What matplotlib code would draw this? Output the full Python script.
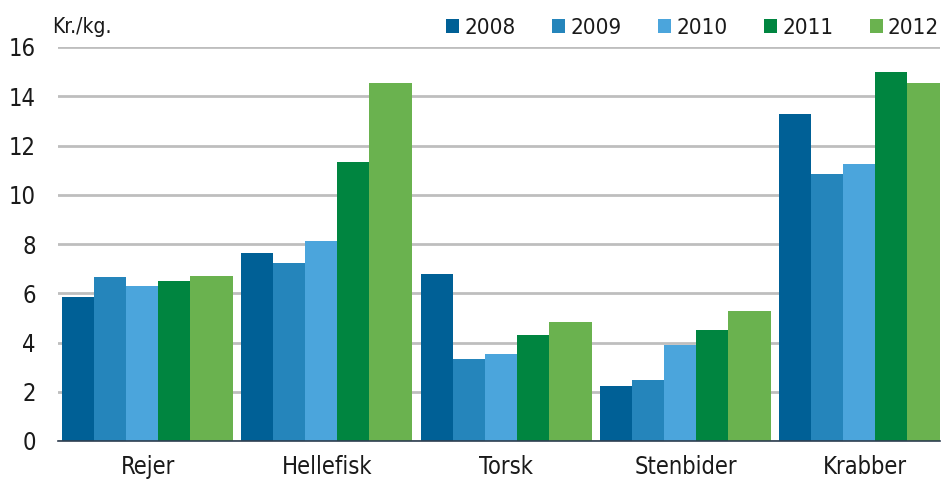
import matplotlib
matplotlib.use("Agg")
import matplotlib.pyplot as plt
from matplotlib import font_manager
import numpy as np

categories = ["Rejer", "Hellefisk", "Torsk", "Stenbider", "Krabber"]
years = ["2008", "2009", "2010", "2011", "2012"]
v2008 = [5.86, 7.65, 6.77, 2.22, 13.27]
v2009 = [6.67, 7.23, 3.33, 2.48, 10.83]
v2010 = [6.29, 8.12, 3.53, 3.91, 11.25]
v2011 = [6.51, 11.33, 4.29, 4.51, 14.97]
v2012 = [6.69, 14.54, 4.83, 5.27, 14.53]
yticks = [0, 2, 4, 6, 8, 10, 12, 14, 16]
unit_label = "Kr./kg."

series = [v2008, v2009, v2010, v2011, v2012]
colors = ["#006096", "#2585bb", "#4ba5dc", "#008540", "#6ab24f"]

# prefer a condensed sans face if one is installed
cond = None
for f in font_manager.fontManager.ttflist:
    fn = f.fname.lower()
    if ("narrow" in fn or "condensed" in fn) and not any(
            k in fn for k in ("bold", "italic", "oblique", "light", "black", "thin", "medium", "semi", "extra")):
        cond = f
        break
if cond is not None:
    plt.rcParams["font.family"] = [cond.name, "DejaVu Sans"]
    plt.rcParams["font.stretch"] = cond.stretch
    base = 17
else:
    plt.rcParams["font.family"] = ["DejaVu Sans"]
    base = 15
txtc = "#1a1a1a"

W, H = 942, 480
fig = plt.figure(figsize=(W / 100, H / 100), dpi=100)
ax = fig.add_axes([58 / W, (480 - 441) / H, (940 - 58) / W, (441 - 47) / H])

x = np.arange(len(categories))
w = 0.1786
widths = [w, w, w, w, 0.24]
off = -0.477
for vals, c, wd, yr in zip(series, colors, widths, years):
    ax.bar(x + off, vals, width=wd, align="edge", color=c, label=yr, zorder=3,
           linewidth=0)
    off += wd

ax.set_xlim(-0.5, 4.42)
ax.set_ylim(0, 16)
ax.set_yticks(yticks)
ax.set_yticklabels([str(t) for t in yticks])
ax.set_xticks(x)
ax.set_xticklabels(categories)
ax.tick_params(axis="y", length=0, pad=16, labelsize=base, colors=txtc)
ax.tick_params(axis="x", length=0, pad=10, labelsize=base, colors=txtc)
ax.grid(axis="y", color="#bebebe", linewidth=2, zorder=0)
for s in ["top", "right", "left"]:
    ax.spines[s].set_visible(False)
ax.spines["bottom"].set_color("#2e3e50")
ax.spines["bottom"].set_linewidth(1.2)
ax.spines["bottom"].set_zorder(4)

fig.text(52 / W, 1 - 27 / H, unit_label, fontsize=base - 2, va="center", ha="left",
         color=txtc)

lfs = base - 1
fig.canvas.draw()
r = fig.canvas.get_renderer()
t = fig.text(0, 0, "2008", fontsize=lfs)
tw = t.get_window_extent(r).width
t.remove()
em = lfs * 100 / 72.0
hl = 13 / em
tp = 5 / em
cs = max(0.2, (106 - 13 - 5 - tw) / em)

leg = fig.legend(loc="center right", bbox_to_anchor=(939 / W, 1 - 28 / H), ncol=5,
                 frameon=False, fontsize=lfs, handlelength=hl, handleheight=hl,
                 handletextpad=tp, columnspacing=cs, borderaxespad=0,
                 borderpad=0)
for tx in leg.get_texts():
    tx.set_color(txtc)

fig.savefig("out.png", dpi=100)
